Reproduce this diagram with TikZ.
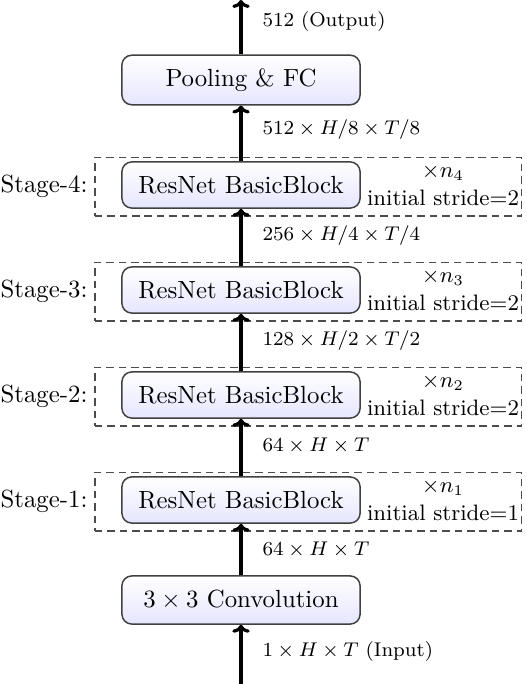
\documentclass[tikz,border=0pt]{standalone}
\usetikzlibrary{arrows.meta}
\begin{document}
\begin{tikzpicture}[x=0.403pt,y=-0.403pt,
  blk/.style={draw=black!75, line width=0.6pt, rounded corners=4pt, top color=white, bottom color=blue!10, minimum width=96pt, minimum height=18.6pt, inner sep=0pt},
  flow/.style={-{To[length=3.2pt,width=7pt]}, line width=1.3pt},
  lab/.style={anchor=west, font=\footnotesize, inner sep=0pt},
  stg/.style={draw=black!70, line width=0.6pt, dash pattern=on 3pt off 2pt, minimum width=172pt, minimum height=23.6pt, inner sep=0pt},
  ann/.style={font=\small, align=center, inner sep=0pt},
  stlab/.style={anchor=east, inner sep=0pt}]
\useasboundingbox (0,0) rectangle (526,684);
% blocks
\node[blk, minimum height=20pt] (pool) at (241,80) {Pooling \& FC};
\node[blk] (b4) at (241,185) {ResNet BasicBlock};
\node[blk] (b3) at (241,290) {ResNet BasicBlock};
\node[blk] (b2) at (241,395) {ResNet BasicBlock};
\node[blk] (b1) at (241,500) {ResNet BasicBlock};
\node[blk, minimum height=19.4pt] (conv) at (241,600) {$3\times 3$ Convolution};
% stage frames
\node[stg] (d4) at (308.25,186.75) {};
\node[stg] (d3) at (308.25,291.75) {};
\node[stg] (d2) at (308.25,396.75) {};
\node[stg] (d1) at (308.25,501.75) {};
\node[stlab] (l4) at ([xshift=-2.5pt]d4.west) {Stage-4:};
\node[stlab] (l3) at ([xshift=-2.5pt]d3.west) {Stage-3:};
\node[stlab] (l2) at ([xshift=-2.5pt]d2.west) {Stage-2:};
\node[stlab] (l1) at ([xshift=-2.5pt]d1.west) {Stage-1:};
\node[ann] (a4) at (443,185) {$\times n_4$\\initial stride=2};
\node[ann] (a3) at (443,290) {$\times n_3$\\initial stride=2};
\node[ann] (a2) at (443,395) {$\times n_2$\\initial stride=2};
\node[ann] (a1) at (443,500) {$\times n_1$\\initial stride=1};
% connectors
\coordinate (out) at (241,0);
\coordinate (in) at (241,684);
\draw[flow] (pool.north) -- (out);
\draw[flow] (b4.north) -- (pool.south);
\draw[flow] (b3.north) -- (b4.south);
\draw[flow] (b2.north) -- (b3.south);
\draw[flow] (b1.north) -- (b2.south);
\draw[flow] (conv.north) -- (b1.south);
\draw[flow] (in) -- (conv.south);
% labels
\node[lab] (t0) at (262,22) {512 (Output)};
\node[lab] (t1) at (262,130) {$512\times H/8\times T/8$};
\node[lab] (t2) at (262,236) {$256\times H/4\times T/4$};
\node[lab] (t3) at (262,341) {$128\times H/2\times T/2$};
\node[lab] (t4) at (262,446) {$64\times H\times T$};
\node[lab] (t5) at (262,550) {$64\times H\times T$};
\node[lab] (t6) at (262,652) {$1\times H\times T$ (Input)};
\end{tikzpicture}
\end{document}
